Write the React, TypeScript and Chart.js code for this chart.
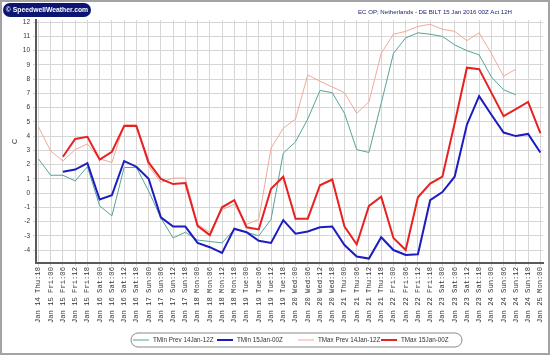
import React, { useEffect, useRef } from 'react';
import { Chart, registerables } from 'chart.js';

Chart.register(...registerables);

const TITLE = 'EC OP; Netherlands - DE BILT 15 Jan 2016 00Z Act 12H';
const LOGO = '\u00A9 SpeedwellWeather.com';
const Y_TITLE = 'C';

const categories = [
  'Jan 14 Thu:18',
  'Jan 15 Fri:00', 'Jan 15 Fri:06', 'Jan 15 Fri:12', 'Jan 15 Fri:18',
  'Jan 16 Sat:00', 'Jan 16 Sat:06', 'Jan 16 Sat:12', 'Jan 16 Sat:18',
  'Jan 17 Sun:00', 'Jan 17 Sun:06', 'Jan 17 Sun:12', 'Jan 17 Sun:18',
  'Jan 18 Mon:00', 'Jan 18 Mon:06', 'Jan 18 Mon:12', 'Jan 18 Mon:18',
  'Jan 19 Tue:00', 'Jan 19 Tue:06', 'Jan 19 Tue:12', 'Jan 19 Tue:18',
  'Jan 20 Wed:00', 'Jan 20 Wed:06', 'Jan 20 Wed:12', 'Jan 20 Wed:18',
  'Jan 21 Thu:00', 'Jan 21 Thu:06', 'Jan 21 Thu:12', 'Jan 21 Thu:18',
  'Jan 22 Fri:00', 'Jan 22 Fri:06', 'Jan 22 Fri:12', 'Jan 22 Fri:18',
  'Jan 23 Sat:00', 'Jan 23 Sat:06', 'Jan 23 Sat:12', 'Jan 23 Sat:18',
  'Jan 24 Sun:00', 'Jan 24 Sun:06', 'Jan 24 Sun:12', 'Jan 24 Sun:18',
  'Jan 25 Mon:00',
];

const seriesNames = ['TMin Prev 14Jan-12Z', 'TMin 15Jan-00Z', 'TMax Prev 14Jan-12Z', 'TMax 15Jan-00Z'];

const tminPrev = [
  2.4, 1.25, 1.25, 0.85, 1.85, -0.9, -1.6, 1.8, 1.8, 0.15,
  -1.75, -3.15, -2.75, -3.3, -3.4, -3.5, -2.55, -2.75, -3.0, -1.85,
  2.8, 3.6, 5.2, 7.2, 7.05, 5.6, 3.05, 2.85, 6.3, 9.8,
  10.9, 11.25, 11.15, 11.0, 10.4, 10.0, 9.7, 8.15, 7.25, 6.9,
  null, null,
];

const tmin = [
  null, null, 1.5, 1.65, 2.1, -0.45, -0.15, 2.25, 1.85, 1.0,
  -1.7, -2.35, -2.35, -3.5, -3.8, -4.2, -2.5, -2.75, -3.35, -3.5,
  -1.9, -2.85, -2.7, -2.4, -2.35, -3.65, -4.45, -4.6, -3.1, -4.0,
  -4.35, -4.3, -0.5, 0.07, 1.15, 4.8, 6.8, 5.5, 4.25, 4.0,
  4.15, 2.85,
];

const tmaxPrev = [
  4.65, 2.95, 2.25, 3.05, 3.45, 2.4, 2.15, 4.8, 4.8, 1.9,
  0.75, 1.05, 1.05, -2.2, -2.75, -1.15, -0.8, -2.2, -1.85, 3.15,
  4.55, 5.2, 8.3, 7.85, 7.45, 7.05, 5.6, 6.4, 9.8, 11.15,
  11.35, 11.7, 11.85, 11.5, 11.35, 10.7, 11.25, 9.8, 8.2, 8.7,
  null, null,
];

const tmax = [
  null, null, 2.55, 3.8, 3.95, 2.35, 2.9, 4.7, 4.7, 2.15,
  1.0, 0.63, 0.7, -2.3, -2.95, -1.0, -0.5, -2.4, -2.55, 0.3,
  1.15, -1.8, -1.8, 0.55, 0.95, -2.35, -3.6, -0.9, -0.25, -3.15,
  -4.0, -0.3, 0.67, 1.15, 4.9, 8.8, 8.7, 7.05, 5.4, 5.9,
  6.4, 4.2,
];

const Y_MIN = -4.91;
const Y_MAX = 12.15;
const X_MIN = -0.2;
const X_MAX = 41.25;

// legend layout (column starts of each legend entry)
const LEGEND_COLS = [133, 217, 298, 381];

const decor = {
  id: 'decor',
  beforeDraw(chart: any) {
    const { ctx, width, height } = chart;
    ctx.save();
    ctx.fillStyle = '#ffffff';
    ctx.fillRect(0, 0, width, height);
    ctx.restore();
  },
  afterDraw(chart: any) {
    const { ctx, width, height } = chart;
    ctx.save();
    ctx.strokeStyle = '#a3a3a3';
    ctx.lineWidth = 2;
    ctx.strokeRect(1, 1, width - 2, height - 2);

    ctx.fillStyle = '#0c1672';
    ctx.beginPath();
    ctx.roundRect(3, 3, 88, 14, 7);
    ctx.fill();
    ctx.fillStyle = '#ffffff';
    ctx.font = 'bold 6.8px "Liberation Sans"';
    ctx.textBaseline = 'middle';
    ctx.textAlign = 'center';
    ctx.fillText(LOGO, 47, 10.3);

    ctx.fillStyle = '#1e2470';
    ctx.font = '6.1px "Liberation Sans"';
    ctx.textAlign = 'right';
    ctx.fillText(TITLE, 512, 12);

    // legend
    const cy = 340;
    ctx.strokeStyle = '#8a8a8a';
    ctx.lineWidth = 1;
    ctx.beginPath();
    ctx.roundRect(131, 333, 331, 14, 7);
    ctx.stroke();
    ctx.font = '6.3px "Liberation Sans"';
    ctx.textAlign = 'left';
    ctx.textBaseline = 'middle';
    chart.data.datasets.forEach((ds: any, i: number) => {
      const x0 = LEGEND_COLS[i];
      ctx.strokeStyle = ds.borderColor;
      ctx.lineWidth = ds.borderWidth;
      ctx.beginPath();
      ctx.moveTo(x0, cy);
      ctx.lineTo(x0 + 16, cy);
      ctx.stroke();
      ctx.fillStyle = '#333333';
      ctx.fillText(ds.label, x0 + 20, cy + 0.3);
    });
    ctx.restore();
  },
};

export default function App() {
  const ref = useRef<HTMLCanvasElement>(null);
  useEffect(() => {
    const toPts = (arr: (number | null)[]) => arr.map((y, i) => ({ x: i, y }));
    const mk = (label: string, arr: (number | null)[], color: string, w: number, order: number) => ({
      label,
      data: toPts(arr),
      borderColor: color,
      backgroundColor: color,
      borderWidth: w,
      pointRadius: 0,
      pointHoverRadius: 0,
      tension: 0,
      fill: false,
      spanGaps: false,
      order,
    });
    const chart = new Chart(ref.current as HTMLCanvasElement, {
      type: 'line',
      data: {
        datasets: [
          mk(seriesNames[0], tminPrev, '#58a39a', 1, 1),
          mk(seriesNames[1], tmin, '#1c1cc0', 2, 0),
          mk(seriesNames[2], tmaxPrev, '#f2a898', 1, 1),
          mk(seriesNames[3], tmax, '#e62222', 2, 0),
        ] as any,
      },
      options: {
        animation: false,
        responsive: false,
        maintainAspectRatio: false,
        layout: { padding: { left: 0, right: 4, top: 20, bottom: 24 } },
        plugins: {
          title: { display: false },
          tooltip: { enabled: false },
          legend: { display: false },
        },
        scales: {
          x: {
            type: 'linear',
            min: X_MIN,
            max: X_MAX,
            afterFit: (s: any) => { s.height = 68; },
            ticks: {
              stepSize: 1,
              maxTicksLimit: 100,
              includeBounds: false,
              autoSkip: false,
              minRotation: 90,
              maxRotation: 90,
              padding: 1,
              color: '#333333',
              font: { family: '"Liberation Mono"', size: 7.2 },
              callback: (v: any) => categories[v as number] ?? '',
            },
            grid: { color: '#d6d6d6', lineWidth: 1, tickLength: 3 },
            border: { color: '#5a5a5a', width: 2 },
          },
          y: {
            min: Y_MIN,
            max: Y_MAX,
            afterFit: (s: any) => { s.width = 36; },
            ticks: {
              stepSize: 1,
              maxTicksLimit: 100,
              includeBounds: false,
              padding: 3,
              color: '#333333',
              font: { family: '"Liberation Sans"', size: 6.5 },
            },
            title: {
              display: true,
              text: Y_TITLE,
              color: '#333333',
              font: { family: '"Liberation Sans"', size: 7 },
              padding: { top: 11, bottom: 0 },
            },
            grid: { color: '#d6d6d6', lineWidth: 1, tickLength: 3 },
            border: { color: '#5a5a5a', width: 2 },
          },
        },
      } as any,
      plugins: [decor],
    });
    return () => chart.destroy();
  }, []);
  return (
    <div style={{ position: 'fixed', left: 0, top: 0, width: 550, height: 355 }}>
      <canvas ref={ref} width={550} height={355} style={{ width: 550, height: 355, display: 'block' }} />
    </div>
  );
}
